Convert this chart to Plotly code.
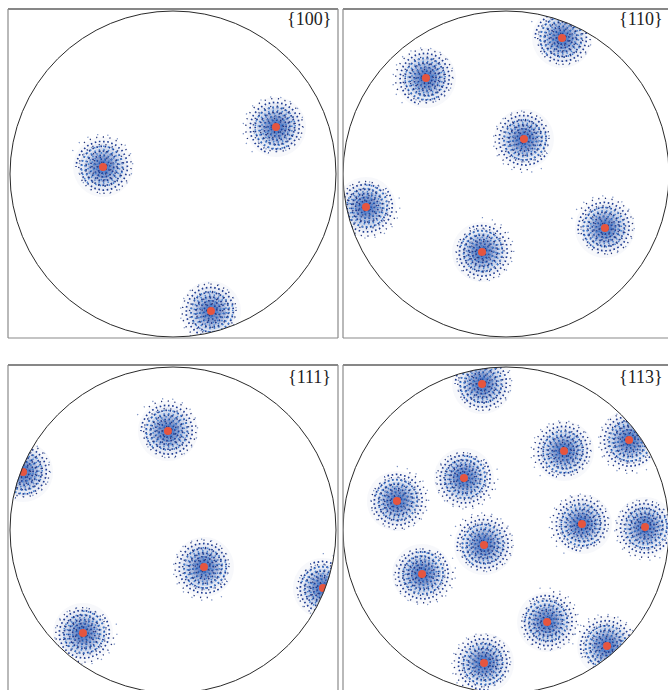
import numpy as np
import plotly.graph_objects as go

W, H = 668, 690

# Pole figure names
labels = ["{100}", "{110}", "{111}", "{113}"]

# Pole positions (projected, unit-circle coordinates) for each pole figure
p100_x = [-0.429, 0.632, 0.233]
p100_y = [0.043, 0.288, -0.840]

p110_x = [0.344, -0.491, 0.110, -0.859, -0.147, 0.607]
p110_y = [0.834, 0.589, 0.215, -0.202, -0.479, -0.331]

p111_x = [-0.031, -0.920, 0.190, -0.552, 0.920]
p111_y = [0.607, 0.356, -0.227, -0.632, -0.356]

p113_x = [-0.147, 0.356, 0.755, -0.258, -0.669, -0.135, 0.466, 0.853,
          -0.515, 0.252, 0.620, -0.135]
p113_y = [0.896, 0.485, 0.552, 0.319, 0.178, -0.092, 0.037, 0.018,
          -0.270, -0.564, -0.712, -0.816]

poles = [(p100_x, p100_y), (p110_x, p110_y), (p111_x, p111_y), (p113_x, p113_y)]

# Panel frames in pixels: plot area (x0, x1, y0, y1), circle centre and radius
panels = [
    dict(x0=8, x1=338, y0=9, y1=338, cx=173, cy=174, R=163,
         sides="tlrb", lab=(333, 19)),
    dict(x0=343, x1=668, y0=9, y1=338, cx=506, cy=174, R=163,
         sides="tlb", lab=(665, 19)),
    dict(x0=8, x1=338, y0=365, y1=690, cx=173, cy=530, R=163,
         sides="tlr", lab=(333, 377)),
    dict(x0=343, x1=668, y0=365, y1=690, cx=506, cy=530, R=163,
         sides="tl", lab=(665, 377)),
]

# Soft density layers under each pole: (marker diameter px, colour)
halo_layers = [
    (60, "rgba(140,160,205,0.07)"),
    (48, "rgba(100,125,190,0.11)"),
    (38, "rgba(70,100,180,0.15)"),
    (30, "rgba(50,85,170,0.21)"),
    (22, "rgba(40,75,165,0.30)"),
    (14, "rgba(50,100,195,0.40)"),
]

# Speckle strokes around each pole:
# (colour, phase, max radius px, turns, dash, width)
speckle_styles = [
    ("#1f3c93", 0.0, 27, 7.5, "1.6px,2.6px", 1.7),
    ("#3f7fd0", 2.1, 22, 9.3, "1.4px,3.2px", 1.6),
    ("#24357a", 4.2, 31, 5.7, "1.2px,5.5px", 1.4),
    ("#7d93c4", 1.0, 35, 4.3, "1.2px,9px", 1.3),
]


def spiral_xy(px, py, R, phase, rmax, turns):
    t = np.linspace(0.05, 1.0, 480)
    r = rmax * t ** 1.45 / R
    xs, ys = [], []
    for j, (x0, y0) in enumerate(zip(px, py)):
        th = 2 * np.pi * turns * t + phase + 1.3 * j
        xs += list(x0 + r * np.cos(th)) + [None]
        ys += list(y0 + r * np.sin(th)) + [None]
    return xs, ys


fig = go.Figure()
shapes = []
annotations = []
k = 0.5523  # cubic Bezier circle constant
# outer square (counter-clockwise) minus unit circle (clockwise)
mask_path = (
    "M -5 -5 L 5 -5 L 5 5 L -5 5 Z "
    f"M 1 0 C 1 {-k} {k} -1 0 -1 C {-k} -1 -1 {-k} -1 0 "
    f"C -1 {k} {-k} 1 0 1 C {k} 1 1 {k} 1 0 Z"
)

for i, (p, (px, py)) in enumerate(zip(panels, poles)):
    n = "" if i == 0 else str(i + 1)
    xa, ya = "x" + n, "y" + n
    R = p["R"]
    fig.layout["xaxis" + n] = dict(
        domain=[p["x0"] / W, p["x1"] / W],
        range=[(p["x0"] - p["cx"]) / R, (p["x1"] - p["cx"]) / R],
        visible=False, fixedrange=True, anchor=ya,
    )
    fig.layout["yaxis" + n] = dict(
        domain=[1 - p["y1"] / H, 1 - p["y0"] / H],
        range=[(p["cy"] - p["y1"]) / R, (p["cy"] - p["y0"]) / R],
        visible=False, fixedrange=True, anchor=xa,
    )
    for size, col in halo_layers:
        fig.add_trace(go.Scatter(
            x=px, y=py, mode="markers", xaxis=xa, yaxis=ya,
            marker=dict(size=size, color=col, line=dict(width=0)),
            hoverinfo="skip", showlegend=False,
        ))
    for col, phase, rmax, turns, dash, lw in speckle_styles:
        sx, sy = spiral_xy(px, py, R, phase, rmax, turns)
        fig.add_trace(go.Scatter(
            x=sx, y=sy, mode="lines", xaxis=xa, yaxis=ya,
            line=dict(color=col, width=lw, dash=dash),
            hoverinfo="skip", showlegend=False,
        ))
    fig.add_trace(go.Scatter(
        x=px, y=py, mode="markers", xaxis=xa, yaxis=ya,
        marker=dict(size=8, color="#e5553f", line=dict(width=0)),
        hoverinfo="skip", showlegend=False,
    ))
    # white mask outside the projection circle, then the circle itself
    shapes.append(dict(type="path", path=mask_path, xref=xa, yref=ya,
                       fillcolor="white", fillrule="evenodd",
                       line=dict(width=0), layer="above"))
    shapes.append(dict(type="circle", xref=xa, yref=ya, x0=-1, y0=-1, x1=1, y1=1,
                       line=dict(color="#2a2a2a", width=1), layer="above"))
    # frame sides
    X0, X1 = p["x0"] / W, p["x1"] / W
    Y0, Y1 = 1 - p["y1"] / H, 1 - p["y0"] / H
    side_lines = {
        "t": (X0, Y1, X1, Y1, "#111111"),
        "b": (X0, Y0, X1, Y0, "#8a8a8a"),
        "l": (X0, Y0, X0, Y1, "#8a8a8a"),
        "r": (X1, Y0, X1, Y1, "#8a8a8a"),
    }
    for s in p["sides"]:
        a0, b0, a1, b1, c = side_lines[s]
        shapes.append(dict(type="line", xref="paper", yref="paper",
                           x0=a0, y0=b0, x1=a1, y1=b1,
                           line=dict(color=c, width=1.2), layer="above"))
    lx, ly = p["lab"]
    annotations.append(dict(
        text=labels[i], xref="paper", yref="paper", x=lx / W, y=1 - ly / H,
        xanchor="right", yanchor="middle", showarrow=False,
        font=dict(family="Liberation Serif", size=18, color="#222222"),
    ))

fig.update_layout(
    width=W, height=H,
    margin=dict(l=0, r=0, t=0, b=0),
    paper_bgcolor="white", plot_bgcolor="white",
    shapes=shapes, annotations=annotations,
    showlegend=False,
)

fig.write_html("out.html", config={"displayModeBar": False})
